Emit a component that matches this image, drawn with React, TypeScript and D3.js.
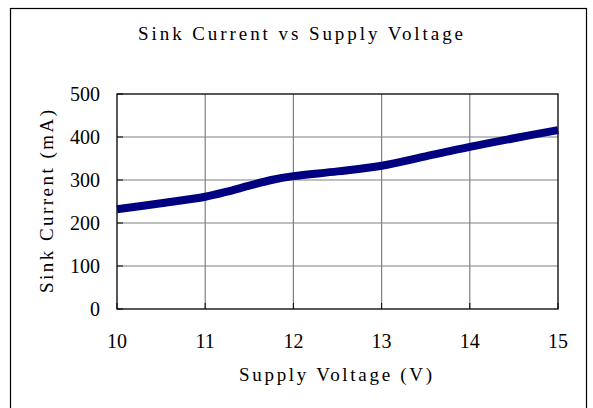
import React from "react";
import * as d3 from "d3";

const voltage = [10, 10.5, 11, 11.25, 11.5, 11.75, 12, 12.5, 13, 13.5, 14, 14.5, 15];
const current = [232, 246, 261, 273, 287, 300, 309, 320, 333, 355, 377, 397, 416];
const xTicks = [10, 11, 12, 13, 14, 15];
const yTicks = [0, 100, 200, 300, 400, 500];

const title = "Sink Current vs Supply Voltage";
const xLabel = "Supply Voltage (V)";
const yLabel = "Sink Current (mA)";

export default function App() {
    const width = 593;
    const height = 408;
    const left = 117, right = 558, top = 94, bottom = 309;

    const x = d3.scaleLinear().domain([10, 15]).range([left, right]);
    const y = d3.scaleLinear().domain([0, 500]).range([bottom, top]);

    const points: [number, number][] = voltage.map((v, i) => [v, current[i]]);
    const line = d3
        .line<[number, number]>()
        .x((d) => x(d[0]))
        .y((d) => y(d[1]))
        .curve(d3.curveCatmullRom.alpha(0.5));

    const serif = "'Liberation Serif', serif";

    return (
        <svg
            width={width}
            height={height}
            style={{ position: "absolute", left: 0, top: 0, background: "#fff" }}
        >
            <rect x={10.5} y={8.5} width={576} height={420} fill="#fff" stroke="#000" strokeWidth={1.2} />

            <text x={138} y={40} textLength={325} lengthAdjust="spacing" fontFamily={serif} fontSize={19} fill="#000">
                {title}
            </text>

            {/* grid */}
            {yTicks.slice(1, -1).map((t) => (
                <line key={"gy" + t} x1={left} x2={right} y1={y(t)} y2={y(t)} stroke="#808080" strokeWidth={1.2} />
            ))}
            {xTicks.slice(1, -1).map((t) => (
                <line key={"gx" + t} x1={x(t)} x2={x(t)} y1={top} y2={bottom} stroke="#808080" strokeWidth={1.2} />
            ))}

            {/* inner ticks */}
            {yTicks.map((t) => (
                <line key={"ty" + t} x1={left} x2={left + 6} y1={y(t)} y2={y(t)} stroke="#000" />
            ))}
            {xTicks.map((t) => (
                <line key={"tx" + t} x1={x(t)} x2={x(t)} y1={bottom} y2={bottom - 6} stroke="#000" />
            ))}

            <rect x={left} y={top} width={right - left} height={bottom - top} fill="none" stroke="#000" strokeWidth={1.3} />

            <path d={line(points) ?? ""} fill="none" stroke="#000080" strokeWidth={8} strokeLinejoin="round" />

            {/* tick labels */}
            {yTicks.map((t) => (
                <text key={"ly" + t} x={100} y={y(t) + 7} textAnchor="end" fontFamily={serif} fontSize={20} fill="#000">
                    {t}
                </text>
            ))}
            {xTicks.map((t) => (
                <text key={"lx" + t} x={x(t)} y={348} textAnchor="middle" fontFamily={serif} fontSize={20} fill="#000">
                    {t}
                </text>
            ))}

            <text x={239} y={381} textLength={193} lengthAdjust="spacing" fontFamily={serif} fontSize={19} fill="#000">
                {xLabel}
            </text>
            <text
                transform={`translate(53, 293) rotate(-90)`}
                textLength={183}
                lengthAdjust="spacing"
                fontFamily={serif}
                fontSize={19}
                fill="#000"
            >
                {yLabel}
            </text>
        </svg>
    );
}
